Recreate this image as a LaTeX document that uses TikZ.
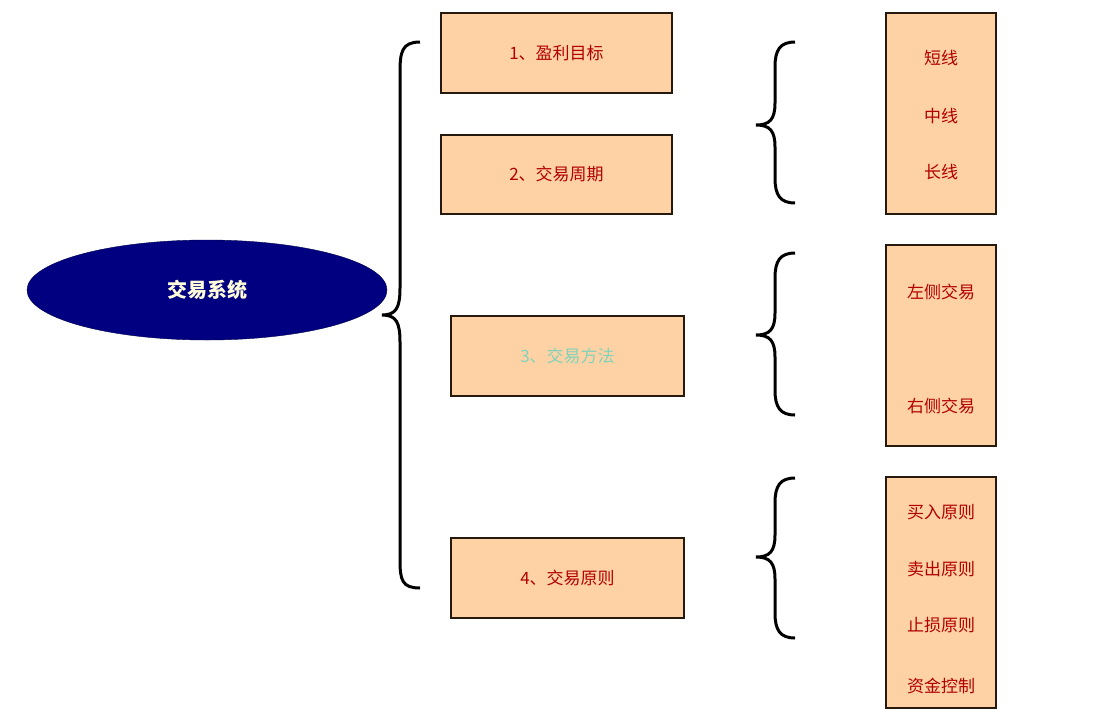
\documentclass[tikz,border=0pt]{standalone}
\usepackage{fontspec}
\setmainfont{Noto Sans CJK SC}
\usetikzlibrary{shapes.geometric}
\begin{document}
\begin{tikzpicture}[x=1pt,y=-1pt,
  box/.style={draw=black!80!brown,line width=1.5pt,fill=orange!35!white,rectangle,inner sep=0pt},
  txt/.style={text=red!70!black,font=\fontsize{17}{20}\selectfont},
  br/.style={line width=3pt,black}]
\useasboundingbox (0,0) rectangle (1098,724);
\fill[white] (0,0) rectangle (1098,724);
\node[ellipse,fill=blue!50!black,draw=blue!30!black,minimum width=360pt,minimum height=100pt,text=yellow!15!white,font=\bfseries\fontsize{20}{24}\selectfont] (sys) at (207,290) {交易系统};
\node[box,minimum width=231pt,minimum height=80pt,txt] (b1) at (556.5,53) {1、盈利目标};
\node[box,minimum width=231pt,minimum height=79pt,txt] (b2) at (556.5,174.5) {2、交易周期};
\node[box,minimum width=233pt,minimum height=80pt,text=cyan!40!green!50!white,font=\fontsize{17}{20}\selectfont] (b3) at (567.5,356) {3、交易方法};
\node[box,minimum width=233pt,minimum height=80pt,txt] (b4) at (567.5,578) {4、交易原则};
\node[box,minimum width=110pt,minimum height=201pt] (r1) at (941,113.5) {};
\node[box,minimum width=110pt,minimum height=201pt] (r2) at (941,345.5) {};
\node[box,minimum width=110pt,minimum height=231pt] (r3) at (941,592.5) {};
\node[txt] (t11) at (941,58) {短线};
\node[txt] (t12) at (941,116) {中线};
\node[txt] (t13) at (941,172) {长线};
\node[txt] (t21) at (941,292) {左侧交易};
\node[txt] (t22) at (941,406) {右侧交易};
\node[txt] (t31) at (941,512) {买入原则};
\node[txt] (t32) at (941,569) {卖出原则};
\node[txt] (t33) at (941,625) {止损原则};
\node[txt] (t34) at (941,686) {资金控制};
\draw[br] (420,42) .. controls (402,42) and (400,52) .. (400,72) -- (400,288) .. controls (400,308) and (396,315) .. (382,315) .. controls (396,315) and (400,322) .. (400,342) -- (400,560) .. controls (400,580) and (402,588) .. (420,588);
\foreach \a/\m/\b in {42/125/203,253/335/415,478/557/638}{
\draw[br] (795,\a) .. controls (780,\a) and (775,\a+8) .. (775,\a+25) -- (775,\m-22) .. controls (775,\m-6) and (770,\m) .. (756,\m) .. controls (770,\m) and (775,\m+6) .. (775,\m+22) -- (775,\b-25) .. controls (775,\b-8) and (780,\b) .. (795,\b);
}
\end{tikzpicture}
\end{document}
